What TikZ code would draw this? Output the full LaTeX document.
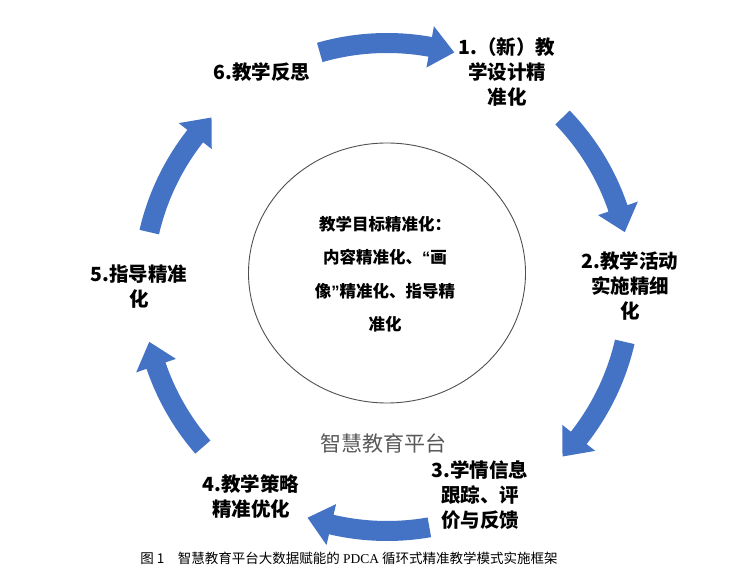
\documentclass[tikz,border=0pt]{standalone}
\usepackage{fontspec}
\usetikzlibrary{shapes.geometric}
\newfontfamily\cjk{Noto Sans CJK SC}
\newfontfamily\capser{Liberation Serif}
\newfontfamily\latq{Liberation Sans}
\definecolor{arrowblue}{HTML}{4472C4}
\definecolor{platgray}{HTML}{595959}
\definecolor{ringline}{HTML}{505050}
\newcommand{\ringarrow}[2]{%
  \fill[arrowblue] (#1:254) arc[start angle=#1, end angle={#2+5.8}, radius=254]
    -- ({#2+5.8}:265) -- (#2:244) -- ({#2+5.8}:223) -- ({#2+5.8}:234)
    arc[start angle={#2+5.8}, end angle=#1, radius=234] -- cycle;}
\begin{document}
\begin{tikzpicture}[x=1pt,y=1pt,
  steplabel/.style={font=\cjk\bfseries\fontsize{19.5}{25}\selectfont, align=center, text=black, inner sep=0pt},
  goallabel/.style={font=\cjk\bfseries\fontsize{16.5}{33.5}\selectfont, align=center, text=black, inner sep=0pt},
  platlabel/.style={font=\cjk\fontsize{21}{25}\selectfont, text=platgray, inner sep=0pt},
  caplabel/.style={font=\cjk\fontsize{13.5}{16}\selectfont, text=black, inner sep=0pt}]
\useasboundingbox (0,0) rectangle (739,570);
\fill[white] (0,0) rectangle (739,570);
% inner circle
\node[draw=ringline, line width=0.9pt, ellipse, minimum width=277, minimum height=260, inner sep=0pt] (goal) at (387,297) {};
\node[goallabel] (goaltext) at (385,296) {教学目标精准化：\\内容精准化、{\latq\bfseries “}画\\像{\latq\bfseries ”}精准化、指导精\\准化};
\node[platlabel] (platform) at (383,127) {智慧教育平台};
% ring arrows
\begin{scope}[shift={(387,283)}]
  \ringarrow{106}{74}
  \ringarrow{44}{13}
  \ringarrow{-13}{-44}
  \ringarrow{-80}{-109}
  \ringarrow{221}{193}
  \ringarrow{167}{136}
\end{scope}
% step labels
\node[steplabel] (s1) at (507,498) {1.（新）教\\学设计精\\准化};
\node[steplabel] (s2) at (630,284) {2.教学活动\\实施精细\\化};
\node[steplabel] (s3) at (480,75) {3.学情信息\\跟踪、评\\价与反馈};
\node[steplabel] (s4) at (251,73) {4.教学策略\\精准优化};
\node[steplabel] (s5) at (139,283) {5.指导精准\\化};
\node[steplabel] (s6) at (262,498) {6.教学反思};
% caption
\node[caplabel] (cap) at (349,12) {图 1\hspace{1em}智慧教育平台大数据赋能的 {\capser PDCA} 循环式精准教学模式实施框架};
\end{tikzpicture}
\end{document}
